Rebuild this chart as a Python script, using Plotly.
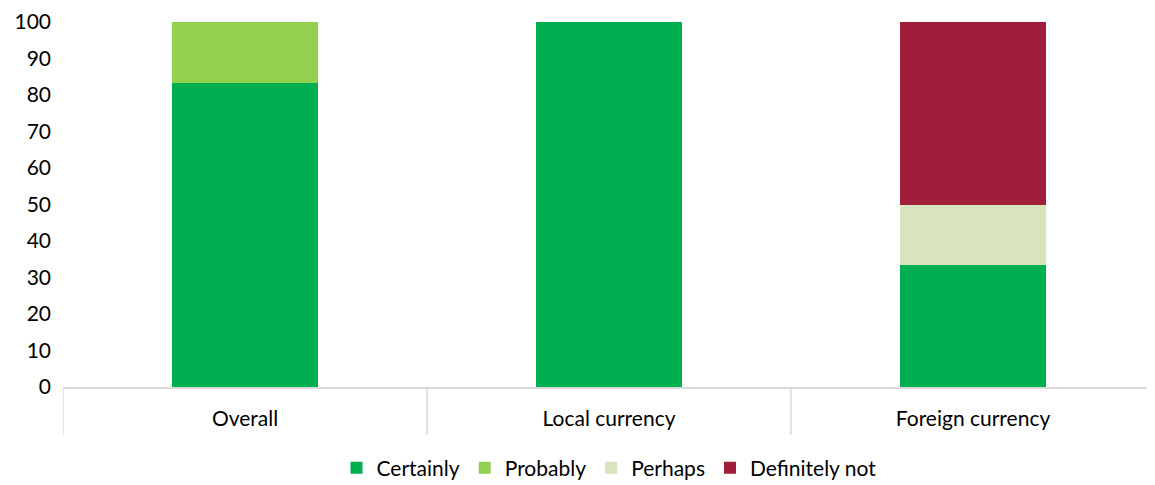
import plotly.graph_objects as go

categories = ["Overall", "Local currency", "Foreign currency"]
certainly = [83.3, 100.0, 33.3]
probably = [16.7, 0.0, 0.0]
perhaps = [0.0, 0.0, 16.7]
definitely_not = [0.0, 0.0, 50.0]
y_ticks = list(range(0, 101, 10))

series = [
    ("Certainly", certainly, "#00B050"),
    ("Probably", probably, "#92D050"),
    ("Perhaps", perhaps, "#D7E4BD"),
    ("Definitely not", definitely_not, "#A01E3A"),
]

fig = go.Figure()
for name, vals, color in series:
    fig.add_trace(go.Bar(x=categories, y=vals, name=name, marker_color=color,
                         marker_line_width=0, width=0.4))

font = "Lato, Carlito, Calibri, sans-serif"
# page body has an 8px default margin, so the figure is sized/offset to compensate
fig.update_layout(
    barmode="stack",
    width=1147, height=477,
    margin=dict(l=55, r=0, t=14, b=98, autoexpand=False),
    paper_bgcolor="white", plot_bgcolor="white",
    font=dict(family=font, size=21, color="#000000"),
    showlegend=True,
    legend=dict(orientation="h", x=0.5, xanchor="center", y=-0.222, yanchor="middle",
                font=dict(size=21), itemwidth=30, traceorder="normal"),
    xaxis=dict(range=[-0.5, 2.5], showgrid=False, showline=True, linecolor="#D9D9D9",
               linewidth=1.5, ticks="", tickfont=dict(size=21), ticklabelstandoff=12,
               automargin=False),
    yaxis=dict(range=[0, 100], tickvals=y_ticks, showgrid=False, zeroline=False,
               showline=False, ticks="", tickfont=dict(size=21), ticklabelstandoff=11,
               automargin=False, ticklabeloverflow="allow"),
)

for xb in [-0.5, 0.5, 1.5, 2.5]:
    fig.add_shape(type="line", xref="x", yref="paper", x0=xb, x1=xb, y0=0, y1=-0.131,
                  line=dict(color="#D9D9D9", width=1.5))

fig.write_html("out.html")
